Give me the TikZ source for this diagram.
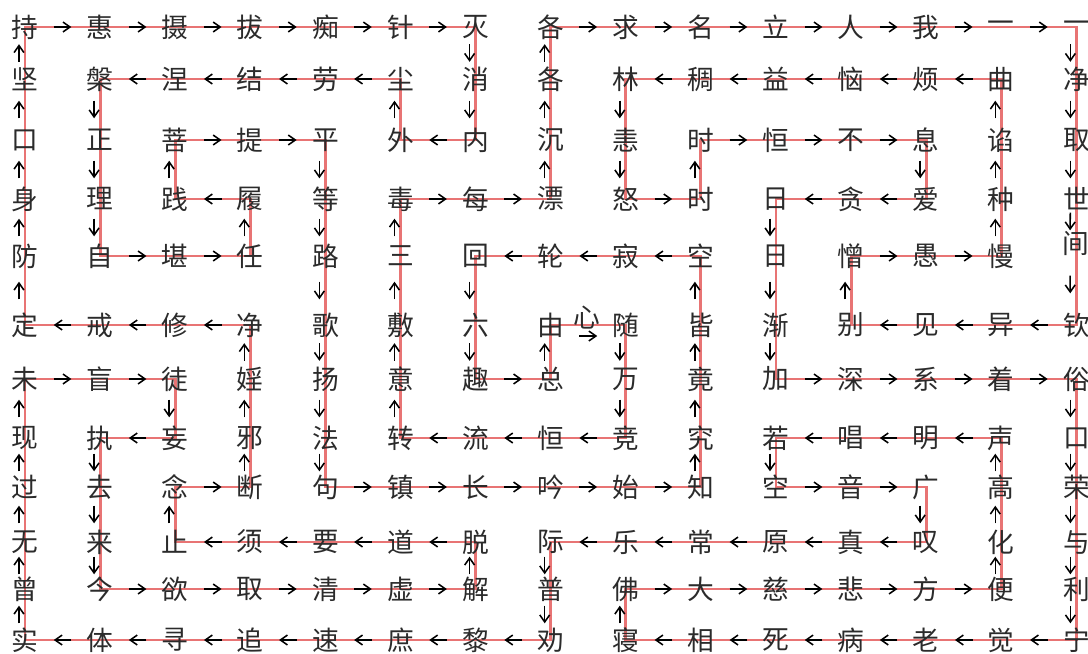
\documentclass[tikz,border=0pt]{standalone}
\usepackage{fontspec}
\newfontfamily\zh{Noto Sans CJK SC}
\usepackage{tikz}
\usetikzlibrary{calc,arrows.meta,backgrounds}
\definecolor{hong}{HTML}{E87474}
\definecolor{mo}{HTML}{2B2B2B}

\begin{document}
\begin{tikzpicture}[x=0.025cm, y=-0.025cm, font={\zh\fontsize{19pt}{19pt}\selectfont},
      zi/.style={inner sep=0pt, text=mo},
      xian/.style={draw=hong, line width=2pt, line join=miter},
      jian/.style={draw=black, line width=1.1pt, -{Straight Barb[length=5pt, width=7pt]}}]
    \useasboundingbox (0,0) rectangle (1088,653);
    \foreach \ch [count=\k from 0] in {持,惠,摄,拔,痴,针,灭,各,求,名,立,人,我,一,一} \node[zi] (z0-\k) at ({25+75.1*\k},27) {\ch};
    \foreach \ch [count=\k from 0] in {坚,槃,涅,结,劳,尘,消,各,林,稠,益,恼,烦,曲,净} \node[zi] (z1-\k) at ({25+75.1*\k},79) {\ch};
    \foreach \ch [count=\k from 0] in {口,正,菩,提,平,外,内,沉,恚,时,恒,不,息,谄,取} \node[zi] (z2-\k) at ({25+75.1*\k},140) {\ch};
    \foreach \ch [count=\k from 0] in {身,理,践,履,等,毒,每,漂,怒,时,日,贪,爱,种,世} \node[zi] (z3-\k) at ({25+75.1*\k},199) {\ch};
    \foreach \ch [count=\k from 0] in {防,自,堪,任,路,三,回,轮,寂,空,日,憎,愚,慢} \node[zi] (z4-\k) at ({25+75.1*\k},256) {\ch};
    \node[zi] (z4-14) at (1076,244) {间};
    \foreach \ch [count=\k from 0] in {定,戒,修,净,歌,敷,六,由,随,皆,渐,别,见,异,钦} \node[zi] (z5-\k) at ({25+75.1*\k},325) {\ch};
    \node[zi] (zx) at (587,318) {心};
    \foreach \ch [count=\k from 0] in {未,盲,徒,婬,扬,意,趣,总,万,竟,加,深,系,着,俗} \node[zi] (z6-\k) at ({25+75.1*\k},379) {\ch};
    \foreach \ch [count=\k from 0] in {现,执,妄,邪,法,转,流,恒,竞,究,若,唱,明,声,口} \node[zi] (z7-\k) at ({25+75.1*\k},438) {\ch};
    \foreach \ch [count=\k from 0] in {过,去,念,断,句,镇,长,吟,始,知,空,音,广,高,荣} \node[zi] (z8-\k) at ({25+75.1*\k},487) {\ch};
    \foreach \ch [count=\k from 0] in {无,来,止,须,要,道,脱,际,乐,常,原,真,叹,化,与} \node[zi] (z9-\k) at ({25+75.1*\k},542) {\ch};
    \foreach \ch [count=\k from 0] in {曾,今,欲,取,清,虚,解,普,佛,大,慈,悲,方,便,利} \node[zi] (z10-\k) at ({25+75.1*\k},589) {\ch};
    \foreach \ch [count=\k from 0] in {实,体,寻,追,速,庶,黎,劝,寝,相,死,病,老,觉,宁} \node[zi] (z11-\k) at ({25+75.1*\k},640) {\ch};
    \begin{scope}[on background layer]
      \draw[xian] (z0-0.center) -- (z0-6.center) -- (z2-6.center) -- (z2-5.center) -- (z1-5.center)
        -- (z1-1.center) -- (z4-1.center) -- (z4-3.center) -- (z3-3.center) -- (z3-2.center)
        -- (z2-2.center) -- (z2-4.center) -- (z8-4.center) -- (z8-9.center) -- (z4-9.center)
        -- (z4-6.center) -- (z6-6.center) -- (z6-7.center) -- (z5-7.center) -- (z5-8.center)
        -- (z7-8.center) -- (z7-5.center) -- (z3-5.center) -- (z3-7.center) -- (z0-7.center)
        -- (z0-14.center) -- (z5-14.center) -- (z5-11.center) -- (z4-11.center) -- (z4-13.center)
        -- (z1-13.center) -- (z1-8.center) -- (z3-8.center) -- (z3-9.center) -- (z2-9.center)
        -- (z2-12.center) -- (z3-12.center) -- (z3-10.center) -- (z6-10.center) -- (z6-14.center)
        -- (z11-14.center) -- (z11-8.center) -- (z10-8.center) -- (z10-13.center) -- (z7-13.center)
        -- (z7-10.center) -- (z8-10.center) -- (z8-12.center) -- (z9-12.center) -- (z9-7.center)
        -- (z11-7.center) -- (z11-0.center) -- (z6-0.center) -- (z6-2.center) -- (z7-2.center)
        -- (z7-1.center) -- (z10-1.center) -- (z10-6.center) -- (z9-6.center) -- (z9-2.center)
        -- (z8-2.center) -- (z8-3.center) -- (z5-3.center) -- (z5-0.center) -- cycle;
    \end{scope}
    \foreach \r/\k [remember=\r as \pr (initially 0), remember=\k as \pk (initially 0)] in
        {0/1,0/2,0/3,0/4,0/5,0/6,1/6,2/6,2/5,1/5,1/4,1/3,1/2,1/1,2/1,3/1,4/1,4/2,4/3,3/3,3/2,2/2,
         2/3,2/4,3/4,4/4,5/4,6/4,7/4,8/4,8/5,8/6,8/7,8/8,8/9,7/9,6/9,5/9,4/9,4/8,4/7,4/6,5/6,6/6,6/7,5/7}
      {\pgfmathsetmacro\dx{(\k==\pk) ? -6 : 0}
       \draw[jian] ($(z\pr-\pk)!0.5!(z\r-\k)!-0.22cm!(z\r-\k)+(\dx,0)$) -- ($(z\pr-\pk)!0.5!(z\r-\k)!0.22cm!(z\r-\k)+(\dx,0)$);}
    \draw[jian] ($(z5-7)!0.5!(z5-8)+(-9,11)$) -- ($(z5-7)!0.5!(z5-8)+(9,11)$);
    \foreach \r/\k [remember=\r as \pr (initially 5), remember=\k as \pk (initially 8)] in
        {6/8,7/8,7/7,7/6,7/5,6/5,5/5,4/5,3/5,3/6,3/7,2/7,1/7,0/7,0/8,0/9,0/10,0/11,0/12,0/13,0/14,
         1/14,2/14,3/14,4/14,5/14,5/13,5/12,5/11,4/11,4/12,4/13,3/13,2/13,1/13,1/12,1/11,1/10,1/9,1/8,
         2/8,3/8,3/9,2/9,2/10,2/11,2/12,3/12,3/11,3/10,4/10,5/10,6/10,6/11,6/12,6/13,6/14,
         7/14,8/14,9/14,10/14,11/14,11/13,11/12,11/11,11/10,11/9,11/8,10/8,10/9,10/10,10/11,10/12,10/13,
         9/13,8/13,7/13,7/12,7/11,7/10,8/10,8/11,8/12,9/12,9/11,9/10,9/9,9/8,9/7,10/7,11/7,
         11/6,11/5,11/4,11/3,11/2,11/1,11/0,10/0,9/0,8/0,7/0,6/0,6/1,6/2,7/2,7/1,8/1,9/1,10/1,
         10/2,10/3,10/4,10/5,10/6,9/6,9/5,9/4,9/3,9/2,8/2,8/3,7/3,6/3,5/3,5/2,5/1,5/0,
         4/0,3/0,2/0,1/0,0/0}
      {\pgfmathsetmacro\dx{(\k==\pk) ? -6 : 0}
       \draw[jian] ($(z\pr-\pk)!0.5!(z\r-\k)!-0.22cm!(z\r-\k)+(\dx,0)$) -- ($(z\pr-\pk)!0.5!(z\r-\k)!0.22cm!(z\r-\k)+(\dx,0)$);}
  \end{tikzpicture}
\end{document}
